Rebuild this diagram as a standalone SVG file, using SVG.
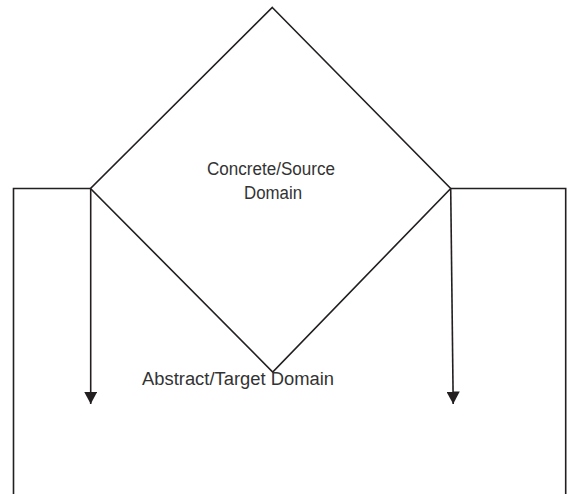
<svg xmlns="http://www.w3.org/2000/svg" width="567" height="494" viewBox="0 0 567 494">
  <style>
    .ln { fill: none; stroke: #231f20; stroke-width: 1.6; }
    .lbl { font-family: "Liberation Sans", Arial, sans-serif; font-size: 18px; fill: #333333; text-anchor: middle; }
  </style>
  <defs>
    <marker id="arrow" markerUnits="userSpaceOnUse" markerWidth="14" markerHeight="13" refX="12.5" refY="6.7" orient="auto">
      <path d="M0,0 L12.5,6.7 L0,13.4 Z" fill="#231f20"/>
    </marker>
  </defs>

  <!-- outer frame -->
  <g id="frame">
    <polyline class="ln" points="13.5,494 13.5,188.5 90.5,188.5"/>
    <polyline class="ln" points="450.7,188.5 565.7,188.5 565.7,494"/>
  </g>

  <!-- concrete/source diamond -->
  <g id="source-domain">
    <polygon class="ln" points="272.3,7.5 450.7,188.5 272.7,372 90.5,188.5"/>
    <text class="lbl" x="271" y="175" textLength="128" lengthAdjust="spacingAndGlyphs">Concrete/Source</text>
    <text class="lbl" x="273" y="199" textLength="58" lengthAdjust="spacingAndGlyphs">Domain</text>
  </g>

  <!-- abstract/target label -->
  <g id="target-domain">
    <text class="lbl" x="238" y="385" textLength="192" lengthAdjust="spacingAndGlyphs">Abstract/Target Domain</text>
  </g>

  <!-- mapping arrows -->
  <g id="connectors">
    <line class="ln" x1="90.7" y1="188.5" x2="90.7" y2="404" marker-end="url(#arrow)"/>
    <line class="ln" x1="450.7" y1="188.5" x2="453.2" y2="404" marker-end="url(#arrow)"/>
  </g>
</svg>
